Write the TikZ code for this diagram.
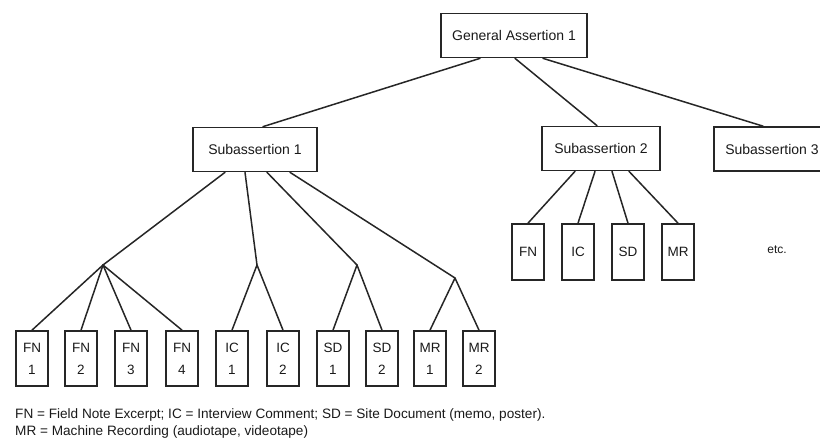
\documentclass[tikz,border=0pt]{standalone}
\usepackage{fontspec}
\setmainfont{Liberation Sans}
\begin{document}
\begin{tikzpicture}[x=1pt,y=-1pt,
  ink/.style={draw=black!85, line width=1.7pt},
  titlebox/.style={ink, rectangle, inner sep=0pt, minimum height=44pt,
    text=black!90, font=\fontsize{14}{16}\selectfont},
  leafbox/.style={ink, rectangle, inner sep=0pt, minimum width=32pt,
    minimum height=55pt, align=center, text=black!90,
    font=\fontsize{13.5}{22}\selectfont},
  link/.style={draw=black!85, line width=1.5pt, line join=round, line cap=round},
  legend/.style={anchor=west, inner sep=0pt, text=black!90,
    font=\fontsize{13.6}{17}\selectfont}]
\useasboundingbox (0,0) rectangle (820,444);

% assertion and subassertions
\node[titlebox, minimum width=146pt] (gen)  at (514,35.5) {General Assertion 1};
\node[titlebox, minimum width=124pt] (sub1) at (255,149.5) {Subassertion 1};
\node[titlebox, minimum width=118pt] (sub2) at (601,148.5) {Subassertion 2};
\node[titlebox, minimum width=116pt] (sub3) at (772,149) {Subassertion 3};

\draw[link] ([xshift=-34pt]gen.south) -- ([xshift=8pt]sub1.north);
\draw[link] ([xshift=1pt]gen.south)   -- ([xshift=-4pt]sub2.north);
\draw[link] ([xshift=29pt]gen.south)  -- ([xshift=-9pt]sub3.north);

% evidence under subassertion 1
\foreach \nm/\x/\t in {fn1/32/{FN\\1}, fn2/81/{FN\\2}, fn3/131/{FN\\3}, fn4/182/{FN\\4},
                       ic1/232/{IC\\1}, ic2/283/{IC\\2}, sd1/333/{SD\\1}, sd2/382/{SD\\2},
                       mr1/430/{MR\\1}, mr2/479/{MR\\2}}
  \node[leafbox] (\nm) at (\x,358.5) {\t};

\coordinate (jfn) at (103,265);
\coordinate (jic) at (257,265);
\coordinate (jsd) at (357,265);
\coordinate (jmr) at (455,278);

\draw[link] ([xshift=-30pt]sub1.south) -- (jfn);
\draw[link] ([xshift=-10pt]sub1.south) -- (jic);
\draw[link] ([xshift=12pt]sub1.south)  -- (jsd);
\draw[link] ([xshift=35pt]sub1.south)  -- (jmr);

\foreach \leaf in {fn1,fn2,fn3,fn4} \draw[link] (jfn) -- (\leaf.north);
\foreach \leaf in {ic1,ic2} \draw[link] (jic) -- (\leaf.north);
\foreach \leaf in {sd1,sd2} \draw[link] (jsd) -- (\leaf.north);
\foreach \leaf in {mr1,mr2} \draw[link] (jmr) -- (\leaf.north);

% evidence under subassertion 2
\node[leafbox, minimum height=56pt] (fn) at (528,252) {FN};
\node[leafbox, minimum height=56pt] (ic) at (578,252) {IC};
\node[leafbox, minimum height=56pt] (sd) at (628,252) {SD};
\node[leafbox, minimum height=56pt] (mr) at (678,252) {MR};
\node[text=black!90, font=\fontsize{12}{14}\selectfont] (etc) at (777,250) {etc.};

\draw[link] ([xshift=-26pt]sub2.south) -- (fn.north);
\draw[link] ([xshift=-6pt]sub2.south)  -- (ic.north);
\draw[link] ([xshift=11pt]sub2.south)  -- (sd.north);
\draw[link] ([xshift=28pt]sub2.south)  -- (mr.north);

% key
\node[legend] (key1) at (15,415) {FN = Field Note Excerpt; IC = Interview Comment; SD = Site Document (memo, poster).};
\node[legend] (key2) at (15,432) {MR = Machine Recording (audiotape, videotape)};
\end{tikzpicture}
\end{document}
